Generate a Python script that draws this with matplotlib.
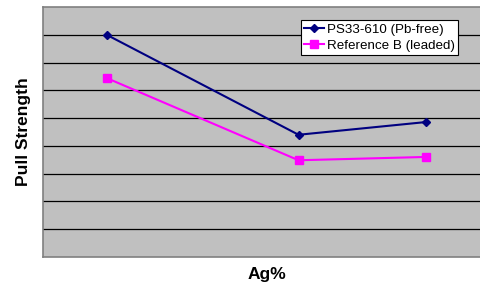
import matplotlib
matplotlib.use("Agg")
import matplotlib.pyplot as plt

x_vals = [1, 4, 6]
pb_free = [8.0, 4.40, 4.86]
leaded = [6.44, 3.48, 3.60]
series_names = ["PS33-610 (Pb-free)", "Reference B (leaded)"]
y_grid = [1, 2, 3, 4, 5, 6, 7, 8]

plt.rcParams['font.family'] = ['Liberation Sans', 'DejaVu Sans']

W, H = 480, 289
fig = plt.figure(figsize=(W/100, H/100), dpi=100)
left, right, top, bottom = 43.3, 490, 7.3, 256.7
ax = fig.add_axes([left/W, 1 - bottom/H, (right-left)/W, (bottom-top)/H])
ax.set_facecolor('#C0C0C0')
ax.set_xlim(0, 7)
ax.set_ylim(0, 9)
for g in y_grid:
    ax.axhline(g, color='black', lw=0.9, zorder=1)
ax.plot(x_vals, pb_free, color='#000080', marker='D', ms=4.5, lw=1.5, label=series_names[0], zorder=3)
ax.plot(x_vals, leaded, color='#FF00FF', marker='s', ms=6, lw=1.5, label=series_names[1], zorder=3)
ax.set_xticks([])
ax.set_yticks([])
for s in ax.spines.values():
    s.set_color('#808080')
    s.set_linewidth(1.2)

leg = ax.legend(loc='upper left', bbox_to_anchor=((300.7-left)/(right-left), 1-(20-top)/(bottom-top)),
                fontsize=9.6, frameon=True, fancybox=False, edgecolor='black', facecolor='white',
                framealpha=1, handlelength=1.5, handletextpad=0.2, borderpad=0.25, labelspacing=0.3,
                borderaxespad=0)
leg.get_frame().set_linewidth(0.8)

fig.text(24/W, 1-132/H, "Pull Strength", rotation=90, ha='center', va='center', fontsize=12.5, fontweight='bold')
fig.text(267/W, 1-275/H, "Ag%", ha='center', va='center', fontsize=12.5, fontweight='bold')

fig.savefig('out.png', dpi=100)
